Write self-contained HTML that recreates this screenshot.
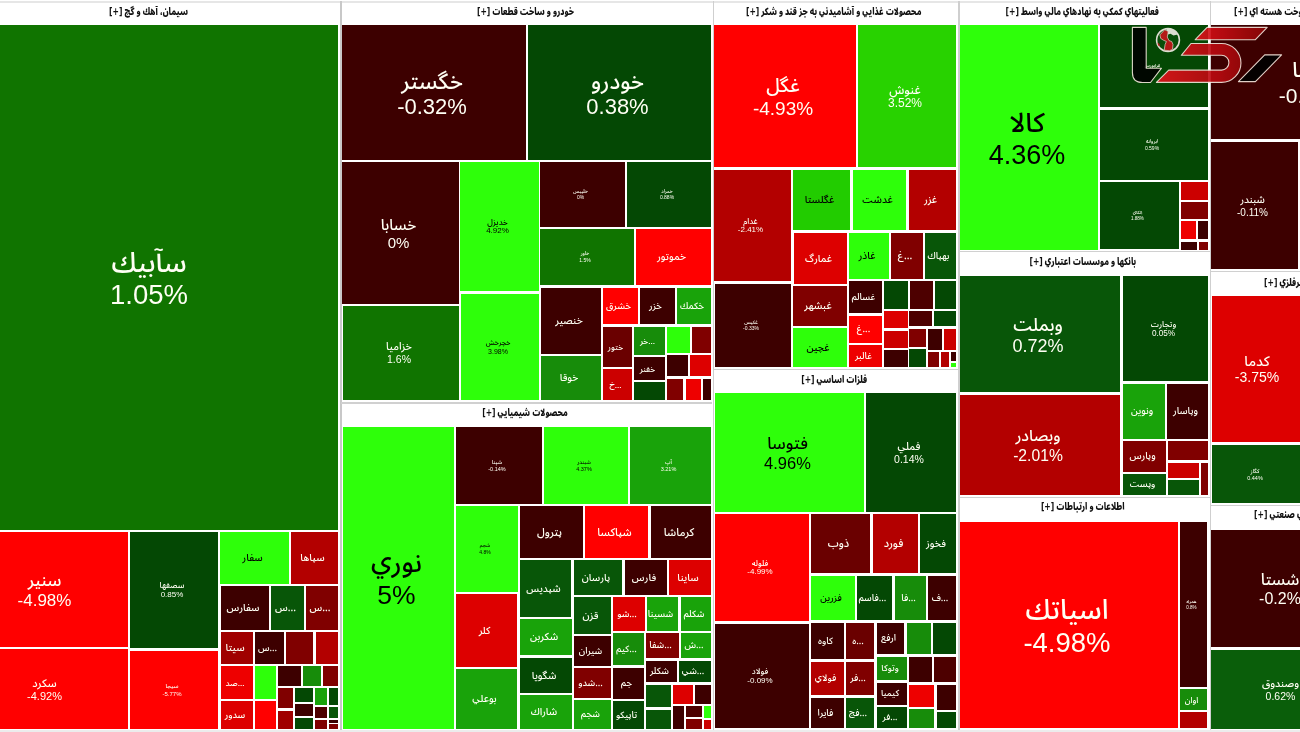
<!DOCTYPE html>
<html lang="fa"><head><meta charset="utf-8"><title>نقشه بازار</title>
<style>
html,body{margin:0;padding:0;background:#fff;}
body{width:1300px;height:732px;overflow:hidden;position:relative;font-family:"Liberation Sans","DejaVu Sans",sans-serif;}
.c{position:absolute;overflow:hidden;display:flex;align-items:center;justify-content:center;text-align:center;}
.c .t{white-space:nowrap;line-height:1.12;transform:translate(-2px,0);}
.c .n{display:block;direction:rtl;font-weight:500;font-family:"Noto Sans Arabic UI","DejaVu Sans","Liberation Sans",sans-serif;}
.c .p{display:block;position:relative;top:0.1em;}
.w{color:#fffff4;}
.b{color:#000;}
.h{position:absolute;display:flex;align-items:center;justify-content:center;background:#fff;font-weight:900;font-size:10px;color:#111;white-space:nowrap;overflow:visible;}
.h span{display:inline-block;transform:translate(-2px,-3px) scaleX(0.765);direction:rtl;font-family:"Noto Sans Arabic UI","DejaVu Sans","Liberation Sans",sans-serif;}
.hl{position:absolute;background:transparent;font-weight:900;font-size:10px;color:#111;white-space:nowrap;display:flex;align-items:center;}
.hl span{display:inline-block;transform:translate(0,-3px) scaleX(0.765);transform-origin:0 50%;direction:rtl;font-family:"Noto Sans Arabic UI","DejaVu Sans","Liberation Sans",sans-serif;}
.ln{position:absolute;background:#c9c9c9;}
</style></head><body>

<div class="h" style="left:-38px;top:3px;width:377.5px;height:21.5px"><span>سيمان، آهك و گچ [+]</span></div>
<div class="h" style="left:341.5px;top:3px;width:371px;height:21.5px"><span>خودرو و ساخت قطعات [+]</span></div>
<div class="h" style="left:341.5px;top:403.5px;width:371px;height:22.3px"><span>محصولات شيميايي [+]</span></div>
<div class="h" style="left:713.8px;top:3px;width:244.2px;height:21.5px"><span>محصولات غذايي و آشاميدني به جز قند و شكر [+]</span></div>
<div class="h" style="left:713.8px;top:371.4px;width:244.2px;height:21.6px"><span>فلزات اساسي [+]</span></div>
<div class="h" style="left:959.2px;top:3px;width:250.6px;height:21.5px"><span>فعاليتهاي كمكي به نهادهاي مالي واسط [+]</span></div>
<div class="h" style="left:959.2px;top:252px;width:250.6px;height:23.2px"><span>بانكها و موسسات اعتباري [+]</span></div>
<div class="h" style="left:959.2px;top:498px;width:250.6px;height:22.5px"><span>اطلاعات و ارتباطات [+]</span></div>
<div class="hl" style="left:1233.6px;top:3px;height:21.5px"><span>فرآورده هاي نفتي، كك و سوخت هسته اي [+]</span></div>
<div class="hl" style="left:1264px;top:274.6px;height:21.3px"><span>ساير محصولات كاني غيرفلزي [+]</span></div>
<div class="hl" style="left:1254.4px;top:506.5px;height:21.5px"><span>شركتهاي چند رشته اي صنعتي [+]</span></div>
<div class="ln" style="left:0px;top:1px;width:1300px;height:2px;background:#e6e6e6"></div>
<div class="ln" style="left:339.5px;top:1px;width:2px;height:731px;background:#c8c8c8"></div>
<div class="ln" style="left:712.5px;top:1px;width:1.5px;height:731px;background:#cfcfcf"></div>
<div class="ln" style="left:958px;top:1px;width:1.5px;height:731px;background:#cfcfcf"></div>
<div class="ln" style="left:1209.6px;top:1px;width:1.6px;height:731px;background:#cfcfcf"></div>
<div class="ln" style="left:341px;top:402px;width:371px;height:1.5px;background:#d0d0d0"></div>
<div class="ln" style="left:713.5px;top:368.8px;width:244px;height:1.6px;background:#d0d0d0"></div>
<div class="ln" style="left:959px;top:250.8px;width:251px;height:1.5px;background:#d0d0d0"></div>
<div class="ln" style="left:959px;top:496.7px;width:251px;height:1.5px;background:#d0d0d0"></div>
<div class="ln" style="left:1211px;top:270.5px;width:89px;height:1.5px;background:#d0d0d0"></div>
<div class="ln" style="left:1211px;top:504.5px;width:89px;height:1.5px;background:#d0d0d0"></div>
<div class="ln" style="left:0px;top:729.5px;width:1300px;height:2.5px;background:#ececec"></div>
<div class="c w" style="left:-36px;top:25px;width:374px;height:505px;background:#107400"><div class="t" style="font-size:27.5px"><span class="n">سآبيك</span><span class="p">1.05%</span></div></div>
<div class="c w" style="left:-35px;top:532px;width:163px;height:115px;background:#ff0000"><div class="t" style="font-size:17px"><span class="n">سنير</span><span class="p">-4.98%</span></div></div>
<div class="c w" style="left:-35px;top:649px;width:163px;height:80px;background:#ff0000"><div class="t" style="font-size:11px"><span class="n">سكرد</span><span class="p">-4.92%</span></div></div>
<div class="c w" style="left:130px;top:532px;width:88px;height:116px;background:#044804"><div class="t" style="font-size:8px"><span class="n">سصفها</span><span class="p">0.85%</span></div></div>
<div class="c w" style="left:130px;top:651px;width:88px;height:78px;background:#ff0000"><div class="t" style="font-size:6px"><span class="n">سيجا</span><span class="p">-5.77%</span></div></div>
<div class="c b" style="left:220px;top:532px;width:69px;height:52px;background:#2eff0a"><div class="t" style="font-size:10.12px"><span class="n">سفار</span></div></div>
<div class="c w" style="left:291px;top:532px;width:47px;height:52px;background:#b30000"><div class="t" style="font-size:10.12px"><span class="n">سپاها</span></div></div>
<div class="c w" style="left:221px;top:586px;width:48px;height:44px;background:#3d0000"><div class="t" style="font-size:10.12px"><span class="n">سفارس</span></div></div>
<div class="c w" style="left:271px;top:586px;width:33px;height:44px;background:#085608"><div class="t" style="font-size:10.12px"><span class="n" style="direction:ltr">س...</span></div></div>
<div class="c w" style="left:306px;top:586px;width:32px;height:44px;background:#800000"><div class="t" style="font-size:10.12px"><span class="n" style="direction:ltr">س...</span></div></div>
<div class="c w" style="left:221px;top:632px;width:32px;height:32px;background:#a00000"><div class="t" style="font-size:10.12px"><span class="n">سيتا</span></div></div>
<div class="c w" style="left:255px;top:632px;width:29px;height:32px;background:#3d0000"><div class="t" style="font-size:9.2px"><span class="n" style="direction:ltr">س...</span></div></div>
<div class="c w" style="left:286px;top:632px;width:27px;height:32px;background:#800000"></div>
<div class="c w" style="left:316px;top:632px;width:22px;height:32px;background:#b30000"></div>
<div class="c w" style="left:221px;top:666px;width:32px;height:33px;background:#ee0000"><div class="t" style="font-size:8.28px"><span class="n" style="direction:ltr">صد...</span></div></div>
<div class="c b" style="left:255px;top:666px;width:21px;height:33px;background:#2eff0a"></div>
<div class="c w" style="left:278px;top:666px;width:23px;height:20px;background:#3d0000"></div>
<div class="c w" style="left:303px;top:666px;width:18px;height:20px;background:#178c0a"></div>
<div class="c w" style="left:323px;top:666px;width:15px;height:20px;background:#800000"></div>
<div class="c w" style="left:278px;top:688px;width:15px;height:20px;background:#800000"></div>
<div class="c w" style="left:295px;top:688px;width:18px;height:14px;background:#044804"></div>
<div class="c w" style="left:315px;top:688px;width:12px;height:17px;background:#19a30a"></div>
<div class="c w" style="left:329px;top:688px;width:9px;height:17px;background:#044804"></div>
<div class="c w" style="left:278px;top:711px;width:15px;height:18px;background:#a00000"></div>
<div class="c w" style="left:295px;top:704px;width:18px;height:12px;background:#3d0000"></div>
<div class="c w" style="left:295px;top:718px;width:18px;height:11px;background:#044804"></div>
<div class="c w" style="left:315px;top:707px;width:12px;height:11px;background:#4d0000"></div>
<div class="c w" style="left:315px;top:720px;width:12px;height:9px;background:#800000"></div>
<div class="c w" style="left:329px;top:707px;width:9px;height:11px;background:#085608"></div>
<div class="c w" style="left:329px;top:720px;width:9px;height:3px;background:#3d0000"></div>
<div class="c w" style="left:329px;top:724px;width:9px;height:5px;background:#800000"></div>
<div class="c w" style="left:221px;top:701px;width:32px;height:28px;background:#dd0000"><div class="t" style="font-size:9.2px"><span class="n">سدور</span></div></div>
<div class="c w" style="left:255px;top:701px;width:21px;height:28px;background:#ff0000"></div>
<div class="c w" style="left:342px;top:25px;width:184px;height:135px;background:#3d0000"><div class="t" style="font-size:22px"><span class="n">خگستر</span><span class="p">-0.32%</span></div></div>
<div class="c w" style="left:528px;top:25px;width:183px;height:135px;background:#044804"><div class="t" style="font-size:22px"><span class="n">خودرو</span><span class="p">0.38%</span></div></div>
<div class="c w" style="left:342px;top:162px;width:117px;height:142px;background:#3d0000"><div class="t" style="font-size:15px"><span class="n">خسابا</span><span class="p">0%</span></div></div>
<div class="c w" style="left:343px;top:306px;width:116px;height:94px;background:#107400"><div class="t" style="font-size:10.5px"><span class="n">خزاميا</span><span class="p">1.6%</span></div></div>
<div class="c b" style="left:460px;top:162px;width:79px;height:129px;background:#2eff0a"><div class="t" style="font-size:8px"><span class="n">خديزل</span><span class="p">4.92%</span></div></div>
<div class="c b" style="left:461px;top:294px;width:78px;height:106px;background:#2eff0a"><div class="t" style="font-size:7px"><span class="n">خچرخش</span><span class="p">3.98%</span></div></div>
<div class="c w" style="left:540px;top:162px;width:85px;height:65px;background:#3d0000"><div class="t" style="font-size:5px"><span class="n">خليبس</span><span class="p">0%</span></div></div>
<div class="c w" style="left:627px;top:162px;width:84px;height:65px;background:#044804"><div class="t" style="font-size:5px"><span class="n">خمراد</span><span class="p">0.88%</span></div></div>
<div class="c w" style="left:540px;top:229px;width:94px;height:56px;background:#107400"><div class="t" style="font-size:5px"><span class="n">خاور</span><span class="p">1.5%</span></div></div>
<div class="c w" style="left:636px;top:229px;width:75px;height:56px;background:#ff0000"><div class="t" style="font-size:10.12px"><span class="n">خموتور</span></div></div>
<div class="c w" style="left:541px;top:288px;width:60px;height:66px;background:#3d0000"><div class="t" style="font-size:10.12px"><span class="n">خنصير</span></div></div>
<div class="c w" style="left:541px;top:356px;width:60px;height:44px;background:#178c0a"><div class="t" style="font-size:10.12px"><span class="n">خوقا</span></div></div>
<div class="c w" style="left:603px;top:288px;width:35px;height:36px;background:#ff0000"><div class="t" style="font-size:9.2px"><span class="n">خشرق</span></div></div>
<div class="c w" style="left:640px;top:288px;width:35px;height:36px;background:#3d0000"><div class="t" style="font-size:9.2px"><span class="n">خزر</span></div></div>
<div class="c w" style="left:677px;top:288px;width:34px;height:36px;background:#19a30a"><div class="t" style="font-size:9.2px"><span class="n">خكمك</span></div></div>
<div class="c w" style="left:603px;top:327px;width:29px;height:40px;background:#6a0000"><div class="t" style="font-size:8.28px"><span class="n">ختور</span></div></div>
<div class="c w" style="left:603px;top:369px;width:29px;height:31px;background:#cc0000"><div class="t" style="font-size:8.28px"><span class="n" style="direction:ltr">خ...</span></div></div>
<div class="c w" style="left:634px;top:327px;width:31px;height:28px;background:#178c0a"><div class="t" style="font-size:8.28px"><span class="n" style="direction:ltr">خر...</span></div></div>
<div class="c b" style="left:667px;top:327px;width:23px;height:26px;background:#2eff0a"></div>
<div class="c w" style="left:692px;top:327px;width:19px;height:26px;background:#800000"></div>
<div class="c w" style="left:634px;top:357px;width:31px;height:23px;background:#3d0000"><div class="t" style="font-size:8.28px"><span class="n">خفنر</span></div></div>
<div class="c w" style="left:634px;top:382px;width:31px;height:18px;background:#044804"></div>
<div class="c w" style="left:667px;top:355px;width:21px;height:21px;background:#3d0000"></div>
<div class="c w" style="left:690px;top:355px;width:21px;height:21px;background:#dd0000"></div>
<div class="c w" style="left:667px;top:379px;width:16px;height:21px;background:#800000"></div>
<div class="c w" style="left:686px;top:379px;width:15px;height:21px;background:#ee0000"></div>
<div class="c w" style="left:703px;top:379px;width:8px;height:21px;background:#3d0000"></div>
<div class="c b" style="left:343px;top:427px;width:111px;height:302px;background:#2eff0a"><div class="t" style="font-size:26.5px"><span class="n">نوري</span><span class="p">5%</span></div></div>
<div class="c w" style="left:456px;top:427px;width:86px;height:77px;background:#3d0000"><div class="t" style="font-size:5.5px"><span class="n">شپنا</span><span class="p">-0.14%</span></div></div>
<div class="c b" style="left:544px;top:427px;width:84px;height:77px;background:#2eff0a"><div class="t" style="font-size:5.5px"><span class="n">شبندر</span><span class="p">4.37%</span></div></div>
<div class="c w" style="left:630px;top:427px;width:81px;height:77px;background:#19a30a"><div class="t" style="font-size:5.5px"><span class="n">آپ</span><span class="p">3.21%</span></div></div>
<div class="c b" style="left:456px;top:506px;width:62px;height:86px;background:#2eff0a"><div class="t" style="font-size:5px"><span class="n">شجم</span><span class="p">4.8%</span></div></div>
<div class="c w" style="left:520px;top:506px;width:63px;height:52px;background:#3d0000"><div class="t" style="font-size:11.04px"><span class="n">پترول</span></div></div>
<div class="c w" style="left:585px;top:506px;width:63px;height:52px;background:#ff0000"><div class="t" style="font-size:11.04px"><span class="n">شپاكسا</span></div></div>
<div class="c w" style="left:651px;top:506px;width:60px;height:52px;background:#3d0000"><div class="t" style="font-size:11.04px"><span class="n">كرماشا</span></div></div>
<div class="c w" style="left:456px;top:594px;width:61px;height:73px;background:#dd0000"><div class="t" style="font-size:10.12px"><span class="n">كلر</span></div></div>
<div class="c w" style="left:456px;top:669px;width:61px;height:60px;background:#19a30a"><div class="t" style="font-size:10.12px"><span class="n">بوعلي</span></div></div>
<div class="c w" style="left:520px;top:560px;width:51px;height:57px;background:#085608"><div class="t" style="font-size:10.12px"><span class="n">شپديس</span></div></div>
<div class="c w" style="left:520px;top:619px;width:52px;height:36px;background:#19a30a"><div class="t" style="font-size:10.12px"><span class="n">شكربن</span></div></div>
<div class="c w" style="left:520px;top:658px;width:52px;height:35px;background:#044804"><div class="t" style="font-size:10.12px"><span class="n">شگويا</span></div></div>
<div class="c w" style="left:520px;top:695px;width:52px;height:34px;background:#19a30a"><div class="t" style="font-size:10.12px"><span class="n">شاراك</span></div></div>
<div class="c w" style="left:574px;top:560px;width:48px;height:35px;background:#085608"><div class="t" style="font-size:10.12px"><span class="n">پارسان</span></div></div>
<div class="c w" style="left:625px;top:560px;width:42px;height:35px;background:#3d0000"><div class="t" style="font-size:10.12px"><span class="n">فارس</span></div></div>
<div class="c w" style="left:669px;top:560px;width:42px;height:35px;background:#dd0000"><div class="t" style="font-size:10.12px"><span class="n">ساينا</span></div></div>
<div class="c w" style="left:574px;top:597px;width:37px;height:37px;background:#085608"><div class="t" style="font-size:10.12px"><span class="n">قزن</span></div></div>
<div class="c w" style="left:613px;top:597px;width:32px;height:34px;background:#dd0000"><div class="t" style="font-size:9.2px"><span class="n" style="direction:ltr">شو...</span></div></div>
<div class="c w" style="left:647px;top:597px;width:31px;height:34px;background:#19a30a"><div class="t" style="font-size:9.2px"><span class="n">شسينا</span></div></div>
<div class="c w" style="left:681px;top:597px;width:30px;height:34px;background:#19a30a"><div class="t" style="font-size:9.2px"><span class="n">شكلم</span></div></div>
<div class="c w" style="left:574px;top:636px;width:37px;height:30px;background:#3d0000"><div class="t" style="font-size:9.2px"><span class="n">شيران</span></div></div>
<div class="c w" style="left:574px;top:668px;width:37px;height:30px;background:#800000"><div class="t" style="font-size:9.2px"><span class="n" style="direction:ltr">شدو...</span></div></div>
<div class="c w" style="left:574px;top:700px;width:37px;height:29px;background:#19a30a"><div class="t" style="font-size:9.2px"><span class="n">شجم</span></div></div>
<div class="c w" style="left:613px;top:633px;width:31px;height:32px;background:#178c0a"><div class="t" style="font-size:9.2px"><span class="n" style="direction:ltr">كيم...</span></div></div>
<div class="c w" style="left:613px;top:668px;width:31px;height:31px;background:#3d0000"><div class="t" style="font-size:9.2px"><span class="n">جم</span></div></div>
<div class="c w" style="left:613px;top:701px;width:31px;height:28px;background:#044804"><div class="t" style="font-size:9.2px"><span class="n">تاپيكو</span></div></div>
<div class="c w" style="left:646px;top:633px;width:33px;height:25px;background:#800000"><div class="t" style="font-size:9.2px"><span class="n" style="direction:ltr">شفا...</span></div></div>
<div class="c w" style="left:646px;top:661px;width:31px;height:21px;background:#3d0000"><div class="t" style="font-size:9.2px"><span class="n">شكلر</span></div></div>
<div class="c w" style="left:646px;top:685px;width:25px;height:22px;background:#085608"></div>
<div class="c w" style="left:646px;top:710px;width:25px;height:19px;background:#085608"></div>
<div class="c w" style="left:681px;top:633px;width:30px;height:25px;background:#19a30a"><div class="t" style="font-size:9.2px"><span class="n" style="direction:ltr">ش...</span></div></div>
<div class="c w" style="left:679px;top:661px;width:32px;height:21px;background:#044804"><div class="t" style="font-size:9.2px"><span class="n" style="direction:ltr">شي...</span></div></div>
<div class="c w" style="left:673px;top:685px;width:20px;height:19px;background:#dd0000"></div>
<div class="c w" style="left:695px;top:685px;width:16px;height:19px;background:#3d0000"></div>
<div class="c w" style="left:673px;top:706px;width:11px;height:23px;background:#3d0000"></div>
<div class="c w" style="left:686px;top:706px;width:16px;height:11px;background:#4d0000"></div>
<div class="c w" style="left:686px;top:719px;width:16px;height:10px;background:#800000"></div>
<div class="c w" style="left:704px;top:706px;width:7px;height:12px;background:#2eff0a"></div>
<div class="c w" style="left:704px;top:720px;width:7px;height:9px;background:#cc0000"></div>
<div class="c w" style="left:714px;top:25px;width:142px;height:142px;background:#ff0000"><div class="t" style="font-size:19px"><span class="n">غگل</span><span class="p">-4.93%</span></div></div>
<div class="c w" style="left:858px;top:25px;width:98px;height:142px;background:#28d200"><div class="t" style="font-size:12px"><span class="n">غنوش</span><span class="p">3.52%</span></div></div>
<div class="c w" style="left:714px;top:170px;width:77px;height:111px;background:#b30000"><div class="t" style="font-size:8px"><span class="n">غدام</span><span class="p">-2.41%</span></div></div>
<div class="c w" style="left:715px;top:284px;width:76px;height:83px;background:#3d0000"><div class="t" style="font-size:5px"><span class="n">غكيس</span><span class="p">-0.33%</span></div></div>
<div class="c b" style="left:793px;top:170px;width:57px;height:60px;background:#22cc00"><div class="t" style="font-size:10.12px"><span class="n">غگلستا</span></div></div>
<div class="c b" style="left:853px;top:170px;width:53px;height:60px;background:#2eff0a"><div class="t" style="font-size:10.12px"><span class="n">غدشت</span></div></div>
<div class="c w" style="left:909px;top:170px;width:47px;height:60px;background:#b30000"><div class="t" style="font-size:10.12px"><span class="n">غزر</span></div></div>
<div class="c w" style="left:794px;top:233px;width:53px;height:51px;background:#dd0000"><div class="t" style="font-size:10.12px"><span class="n">غمارگ</span></div></div>
<div class="c b" style="left:849px;top:233px;width:40px;height:46px;background:#2eff0a"><div class="t" style="font-size:10.12px"><span class="n">غاذر</span></div></div>
<div class="c w" style="left:891px;top:233px;width:32px;height:46px;background:#800000"><div class="t" style="font-size:10.12px"><span class="n" style="direction:ltr">غ...</span></div></div>
<div class="c w" style="left:925px;top:233px;width:31px;height:46px;background:#085608"><div class="t" style="font-size:9.2px"><span class="n">بهپاك</span></div></div>
<div class="c w" style="left:793px;top:286px;width:54px;height:40px;background:#800000"><div class="t" style="font-size:10.12px"><span class="n">غبشهر</span></div></div>
<div class="c b" style="left:793px;top:328px;width:54px;height:39px;background:#2eff0a"><div class="t" style="font-size:10.12px"><span class="n">غچين</span></div></div>
<div class="c w" style="left:849px;top:281px;width:33px;height:32px;background:#3d0000"><div class="t" style="font-size:9.2px"><span class="n">غسالم</span></div></div>
<div class="c w" style="left:849px;top:316px;width:33px;height:27px;background:#ff0000"><div class="t" style="font-size:9.2px"><span class="n" style="direction:ltr">غ...</span></div></div>
<div class="c w" style="left:849px;top:345px;width:33px;height:22px;background:#ee0000"><div class="t" style="font-size:9.2px"><span class="n">غالبر</span></div></div>
<div class="c w" style="left:884px;top:281px;width:24px;height:28px;background:#044804"></div>
<div class="c w" style="left:910px;top:281px;width:23px;height:28px;background:#4d0000"></div>
<div class="c w" style="left:935px;top:281px;width:21px;height:28px;background:#044804"></div>
<div class="c w" style="left:884px;top:311px;width:24px;height:17px;background:#dd0000"></div>
<div class="c w" style="left:909px;top:311px;width:23px;height:15px;background:#4d0000"></div>
<div class="c w" style="left:934px;top:311px;width:22px;height:15px;background:#044804"></div>
<div class="c w" style="left:884px;top:331px;width:24px;height:17px;background:#cc0000"></div>
<div class="c w" style="left:909px;top:329px;width:17px;height:18px;background:#800000"></div>
<div class="c w" style="left:928px;top:329px;width:14px;height:21px;background:#3d0000"></div>
<div class="c w" style="left:944px;top:329px;width:12px;height:21px;background:#cc0000"></div>
<div class="c w" style="left:884px;top:350px;width:24px;height:17px;background:#3d0000"></div>
<div class="c w" style="left:909px;top:349px;width:17px;height:18px;background:#044804"></div>
<div class="c w" style="left:928px;top:352px;width:11px;height:15px;background:#800000"></div>
<div class="c w" style="left:941px;top:352px;width:8px;height:15px;background:#b30000"></div>
<div class="c w" style="left:951px;top:352px;width:5px;height:9px;background:#3d0000"></div>
<div class="c w" style="left:951px;top:363px;width:5px;height:4px;background:#2eff0a"></div>
<div class="c b" style="left:715px;top:393px;width:149px;height:119px;background:#2eff0a"><div class="t" style="font-size:16.5px"><span class="n">فتوسا</span><span class="p">4.96%</span></div></div>
<div class="c w" style="left:866px;top:393px;width:90px;height:119px;background:#044804"><div class="t" style="font-size:10.5px"><span class="n">فملي</span><span class="p">0.14%</span></div></div>
<div class="c w" style="left:715px;top:514px;width:94px;height:107px;background:#ff0000"><div class="t" style="font-size:8px"><span class="n">فلوله</span><span class="p">-4.99%</span></div></div>
<div class="c w" style="left:715px;top:624px;width:94px;height:104px;background:#3d0000"><div class="t" style="font-size:8px"><span class="n">فولاد</span><span class="p">-0.09%</span></div></div>
<div class="c w" style="left:811px;top:514px;width:59px;height:59px;background:#6a0000"><div class="t" style="font-size:11.04px"><span class="n">ذوب</span></div></div>
<div class="c w" style="left:873px;top:514px;width:45px;height:59px;background:#b30000"><div class="t" style="font-size:11.04px"><span class="n">فورد</span></div></div>
<div class="c w" style="left:920px;top:514px;width:36px;height:59px;background:#044804"><div class="t" style="font-size:10.12px"><span class="n">فخوز</span></div></div>
<div class="c b" style="left:811px;top:576px;width:44px;height:44px;background:#2eff0a"><div class="t" style="font-size:9.2px"><span class="n">فزرين</span></div></div>
<div class="c w" style="left:857px;top:576px;width:35px;height:44px;background:#044804"><div class="t" style="font-size:9.2px"><span class="n" style="direction:ltr">فاسم...</span></div></div>
<div class="c w" style="left:895px;top:576px;width:31px;height:44px;background:#178c0a"><div class="t" style="font-size:9.2px"><span class="n" style="direction:ltr">فا...</span></div></div>
<div class="c w" style="left:928px;top:576px;width:28px;height:44px;background:#3d0000"><div class="t" style="font-size:9.2px"><span class="n" style="direction:ltr">ف...</span></div></div>
<div class="c w" style="left:811px;top:623px;width:33px;height:36px;background:#3d0000"><div class="t" style="font-size:9.2px"><span class="n">كاوه</span></div></div>
<div class="c w" style="left:846px;top:623px;width:28px;height:36px;background:#6a0000"><div class="t" style="font-size:9.2px"><span class="n" style="direction:ltr">ه...</span></div></div>
<div class="c w" style="left:877px;top:623px;width:27px;height:31px;background:#3d0000"><div class="t" style="font-size:9.2px"><span class="n">ارفع</span></div></div>
<div class="c w" style="left:907px;top:623px;width:24px;height:31px;background:#178c0a"></div>
<div class="c w" style="left:933px;top:623px;width:23px;height:31px;background:#044804"></div>
<div class="c w" style="left:811px;top:662px;width:33px;height:33px;background:#b30000"><div class="t" style="font-size:9.2px"><span class="n">فولاي</span></div></div>
<div class="c w" style="left:846px;top:662px;width:28px;height:33px;background:#800000"><div class="t" style="font-size:9.2px"><span class="n" style="direction:ltr">فر...</span></div></div>
<div class="c w" style="left:877px;top:657px;width:30px;height:23px;background:#178c0a"><div class="t" style="font-size:8.74px"><span class="n">وتوكا</span></div></div>
<div class="c w" style="left:909px;top:657px;width:23px;height:25px;background:#3d0000"></div>
<div class="c w" style="left:934px;top:657px;width:22px;height:25px;background:#4d0000"></div>
<div class="c w" style="left:877px;top:683px;width:30px;height:22px;background:#3d0000"><div class="t" style="font-size:8.74px"><span class="n">كيميا</span></div></div>
<div class="c w" style="left:909px;top:685px;width:25px;height:22px;background:#ee0000"></div>
<div class="c w" style="left:937px;top:685px;width:19px;height:25px;background:#3d0000"></div>
<div class="c w" style="left:811px;top:698px;width:33px;height:30px;background:#3d0000"><div class="t" style="font-size:9.2px"><span class="n">فايرا</span></div></div>
<div class="c w" style="left:846px;top:698px;width:28px;height:30px;background:#085608"><div class="t" style="font-size:9.2px"><span class="n" style="direction:ltr">فج...</span></div></div>
<div class="c w" style="left:877px;top:707px;width:30px;height:21px;background:#044804"><div class="t" style="font-size:8.74px"><span class="n" style="direction:ltr">فر...</span></div></div>
<div class="c w" style="left:909px;top:709px;width:25px;height:19px;background:#178c0a"></div>
<div class="c w" style="left:937px;top:712px;width:19px;height:16px;background:#044804"></div>
<div class="c b" style="left:960px;top:25px;width:138px;height:225px;background:#2eff0a"><div class="t" style="font-size:27px"><span class="n">كالا</span><span class="p">4.36%</span></div></div>
<div class="c w" style="left:1100px;top:25px;width:108px;height:82px;background:#044804"><div class="t" style="font-size:4.6px"><span class="n">فرابورس</span></div></div>
<div class="c w" style="left:1100px;top:110px;width:108px;height:70px;background:#044804"><div class="t" style="font-size:5px"><span class="n">ابروانه</span><span class="p">0.59%</span></div></div>
<div class="c w" style="left:1100px;top:182px;width:79px;height:67px;background:#044804"><div class="t" style="font-size:4.5px"><span class="n">اتكاي</span><span class="p">1.88%</span></div></div>
<div class="c w" style="left:1181px;top:182px;width:27px;height:18px;background:#cc0000"></div>
<div class="c w" style="left:1181px;top:202px;width:27px;height:17px;background:#800000"></div>
<div class="c w" style="left:1181px;top:221px;width:15px;height:18px;background:#ee0000"></div>
<div class="c w" style="left:1198px;top:221px;width:10px;height:18px;background:#3d0000"></div>
<div class="c w" style="left:1181px;top:242px;width:16px;height:8px;background:#3d0000"></div>
<div class="c w" style="left:1199px;top:242px;width:9px;height:8px;background:#800000"></div>
<div class="c w" style="left:960px;top:276px;width:160px;height:116px;background:#085608"><div class="t" style="font-size:18px"><span class="n">وبملت</span><span class="p">0.72%</span></div></div>
<div class="c w" style="left:1123px;top:276px;width:85px;height:105px;background:#044804"><div class="t" style="font-size:8.2px"><span class="n">وتجارت</span><span class="p">0.05%</span></div></div>
<div class="c w" style="left:1123px;top:384px;width:42px;height:55px;background:#19a30a"><div class="t" style="font-size:9.66px"><span class="n">ونوين</span></div></div>
<div class="c w" style="left:1167px;top:384px;width:41px;height:55px;background:#3d0000"><div class="t" style="font-size:9.66px"><span class="n">وپاسار</span></div></div>
<div class="c w" style="left:960px;top:395px;width:160px;height:100px;background:#b30000"><div class="t" style="font-size:15.7px"><span class="n">وبصادر</span><span class="p">-2.01%</span></div></div>
<div class="c w" style="left:1123px;top:441px;width:43px;height:31px;background:#800000"><div class="t" style="font-size:9.66px"><span class="n">وپارس</span></div></div>
<div class="c w" style="left:1168px;top:441px;width:40px;height:19px;background:#800000"></div>
<div class="c w" style="left:1168px;top:463px;width:31px;height:15px;background:#cc0000"></div>
<div class="c w" style="left:1201px;top:463px;width:7px;height:32px;background:#800000"></div>
<div class="c w" style="left:1123px;top:474px;width:43px;height:21px;background:#085608"><div class="t" style="font-size:9.2px"><span class="n">وپست</span></div></div>
<div class="c w" style="left:1168px;top:480px;width:31px;height:15px;background:#085608"></div>
<div class="c w" style="left:960px;top:522px;width:218px;height:206px;background:#ff0000"><div class="t" style="font-size:27.5px"><span class="n">اسياتك</span><span class="p">-4.98%</span></div></div>
<div class="c w" style="left:1180px;top:522px;width:27px;height:165px;background:#3d0000"><div class="t" style="font-size:4.5px"><span class="n">همراه</span><span class="p">0.8%</span></div></div>
<div class="c w" style="left:1180px;top:689px;width:27px;height:21px;background:#178c0a"><div class="t" style="font-size:8.28px"><span class="n">اوان</span></div></div>
<div class="c w" style="left:1180px;top:712px;width:27px;height:16px;background:#b30000"></div>
<div class="c w" style="left:1211px;top:25px;width:206px;height:114px;background:#3d0000"><div class="t" style="font-size:21px"><span class="n">شپنا</span><span class="p">-0.58%</span></div></div>
<div class="c w" style="left:1211px;top:142px;width:87px;height:127px;background:#3d0000"><div class="t" style="font-size:10px"><span class="n">شبندر</span><span class="p">-0.11%</span></div></div>
<div class="c w" style="left:1212px;top:296px;width:94px;height:146px;background:#dd0000"><div class="t" style="font-size:14px"><span class="n">كدما</span><span class="p">-3.75%</span></div></div>
<div class="c w" style="left:1212px;top:445px;width:90px;height:58px;background:#085608"><div class="t" style="font-size:5.5px"><span class="n">كگاز</span><span class="p">0.44%</span></div></div>
<div class="c w" style="left:1211px;top:530px;width:142px;height:117px;background:#3d0000"><div class="t" style="font-size:16px"><span class="n">شستا</span><span class="p">-0.2%</span></div></div>
<div class="c w" style="left:1211px;top:650px;width:143px;height:79px;background:#0a5e0a"><div class="t" style="font-size:10.5px"><span class="n">وصندوق</span><span class="p">0.62%</span></div></div>
<svg style="position:absolute;left:0;top:0" width="1300" height="732" viewBox="0 0 1300 732">
<defs>
<linearGradient id="rg" gradientUnits="userSpaceOnUse" x1="1160" y1="0" x2="1268" y2="0">
<stop offset="0" stop-color="#e4101a"/><stop offset="0.55" stop-color="#b80a10"/><stop offset="1" stop-color="#7a0505"/>
</linearGradient>
<linearGradient id="rg2" gradientUnits="userSpaceOnUse" x1="1195" y1="0" x2="1268" y2="0">
<stop offset="0" stop-color="#e4101a"/><stop offset="1" stop-color="#8a0606"/>
</linearGradient>
</defs>
<g opacity="0.9"><g stroke="#f4e6dc" stroke-width="1.1" stroke-linejoin="round">
<path d="M1132.4,27.4 H1146.2 V68.2 H1161.5 L1150.5,82.5 H1142.5 Q1132.4,82.5 1132.4,72.5 Z" fill="#000"/>
<path d="M1207.1,27.4 H1267.2 L1255.4,39.7 H1195.2 Z" fill="url(#rg2)"/>
<path d="M1191,43.5 H1221.5 A19.45,19.45 0 0 1 1221.5,82.4 H1156.4 L1168.7,70.1 H1221.5 A7.4,7.4 0 0 0 1221.5,55.3 H1181.3 Z" fill="url(#rg)"/>
<path d="M1264.7,54.9 H1281.6 L1255.4,81.6 H1238.4 Z" fill="#000"/>
</g>
<circle cx="1168" cy="40" r="11.4" fill="#0a4f0a" stroke="#f6eee8" stroke-width="1.6"/>
<path d="M1166.5,28.8 L1171,28.6 L1176,31.2 L1177.5,34.5 L1173.5,35.5 L1170.5,33.8 L1168,34.5 Z" fill="#f4eee8"/>
<path d="M1159.9,34.9 L1164.7,29.7 L1168.2,31.4 L1167.3,37.1 L1169,40.6 L1171.7,41.5 L1173,44.5 L1172.5,49.3 L1169.5,50.7 L1164.2,50.2 L1165.1,44.5 L1166.4,41.5 L1163.4,40.2 L1160.7,38.4 Z" fill="#c8141a" stroke="#f4e8e0" stroke-width="0.7"/>
<path d="M1157.5,42.5 L1159.5,44 L1160,46.5 L1158.2,45.5 Z" fill="#c8141a"/>
</g>
</svg>
</body></html>
